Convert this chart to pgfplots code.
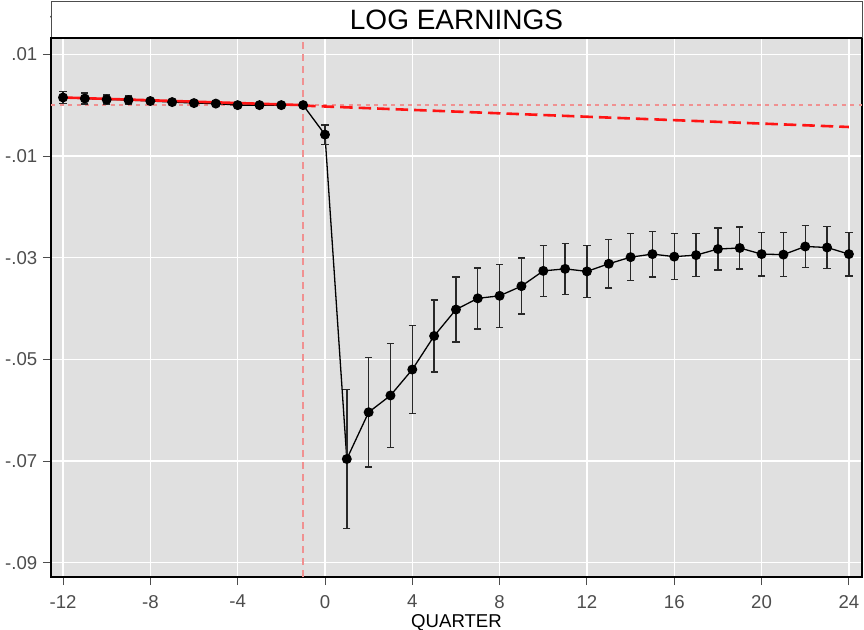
\documentclass[border=0pt]{standalone}
\usepackage{pgfplots}
\pgfplotsset{compat=1.18}
\usepackage{pgfplotstable}
\usepackage{fontspec}
\setmainfont{Liberation Sans}

\definecolor{panel}{RGB}{224,224,224}
\definecolor{ticktext}{RGB}{77,77,77}
\definecolor{reflinecol}{RGB}{240,145,145}
\definecolor{trendcol}{RGB}{255,20,20}
\definecolor{barcol}{RGB}{40,40,40}

% quarter, coefficient, half-width of the confidence interval
\pgfplotstableread{
q    b        e
-12  0.0015   0.0012
-11  0.0013   0.0011
-10  0.0011   0.0009
-9   0.0010   0.0008
-8   0.0008   0.0005
-7   0.0006   0.0004
-6   0.0004   0.0003
-5   0.0003   0.0002
-4   0.0000   0.0002
-3   0.0000   0.0001
-2   0.0000   0.0001
-1   0.0000   0.0000
0   -0.0058   0.0019
1   -0.0696   0.0137
2   -0.0604   0.0108
3   -0.0571   0.0102
4   -0.0520   0.0087
5   -0.0454   0.0071
6   -0.0402   0.0064
7   -0.0380   0.0060
8   -0.0375   0.0062
9   -0.0356   0.0055
10  -0.0326   0.0050
11  -0.0322   0.0050
12  -0.0327   0.0051
13  -0.0312   0.0048
14  -0.0299   0.0046
15  -0.0293   0.0045
16  -0.0298   0.0045
17  -0.0295   0.0042
18  -0.0283   0.0041
19  -0.0281   0.0041
20  -0.0293   0.0043
21  -0.0294   0.0043
22  -0.0278   0.0041
23  -0.0280   0.0041
24  -0.0293   0.0043
}\earnings

\begin{document}
\begin{tikzpicture}
\begin{axis}[
  at={(51bp,53bp)}, anchor=south west,
  scale only axis, width=811bp, height=539bp,
  xmin=-12.55, xmax=24.6, ymin=-0.0928, ymax=0.0132,
  xtick={-12,-8,-4,0,4,8,12,16,20,24},
  xticklabels={-12,-8,-4,0,4,8,12,16,20,24},
  ytick={-0.09,-0.07,-0.05,-0.03,-0.01,0.01},
  yticklabels={-.09,-.07,-.05,-.03,-.01,.01},
  xtick pos=bottom, ytick pos=left,
  axis background/.style={fill=panel},
  grid=major, major grid style={white, line width=1.2bp},
  tick align=outside, major tick length=8bp,
  tick style={ticktext, line width=0.9bp},
  axis line style={black, line width=1.2bp},
  tick label style={font=\fontsize{18.6bp}{20bp}\selectfont, text=ticktext},
  yticklabel style={inner sep=0pt, xshift=-5.5bp},
  xticklabel style={inner sep=0pt, yshift=-10bp},
  xlabel={QUARTER},
  xlabel style={font=\fontsize{18.6bp}{20bp}\selectfont, text=black, inner sep=0pt, yshift=-5.5bp},
  clip=false,
]
  % reference lines at zero and at the last pre-period quarter
  \addplot[color=reflinecol, solid, line width=1.4bp, dash pattern=on 4bp off 4.5bp, mark=none]
    coordinates {(-12.55,0) (24.6,0)};
  \addplot[color=reflinecol, solid, line width=1.4bp, dash pattern=on 7bp off 5bp, mark=none]
    coordinates {(-1,-0.0928) (-1,0.0132)};

  % event-study coefficients with confidence intervals
  \addplot[black, line width=1.3bp, mark=*, mark size=4.3bp,
    mark options={solid, fill=black},
    error bars/.cd, y dir=both, y explicit,
    error bar style={barcol, line width=1.4bp},
    error mark options={rotate=90, barcol, mark size=3.6bp, line width=1.4bp}]
    table[x=q, y=b, y error=e] {\earnings};

  % pre-period linear trend and its projection
  \addplot[color=trendcol, line width=2.6bp, mark=none] coordinates {(-12,0.0015) (-1,0.0)};
  \addplot[color=trendcol, line width=2.6bp, dash pattern=on 12.5bp off 6bp, mark=none]
    coordinates {(-1,-0.0001) (24,-0.0043)};
\end{axis}

% title strip
\draw[ticktext, line width=1bp, fill=white] (51bp,592bp) rectangle (862bp,628bp);
\draw[black, line width=2bp] (51bp,592bp) -- (862bp,592bp);
\node[font=\fontsize{28bp}{30bp}\selectfont, inner sep=0pt] at (456.5bp,610bp) {LOG EARNINGS};

\pgfresetboundingbox
\path (0,0) rectangle (864bp,630bp);
\end{tikzpicture}
\end{document}
